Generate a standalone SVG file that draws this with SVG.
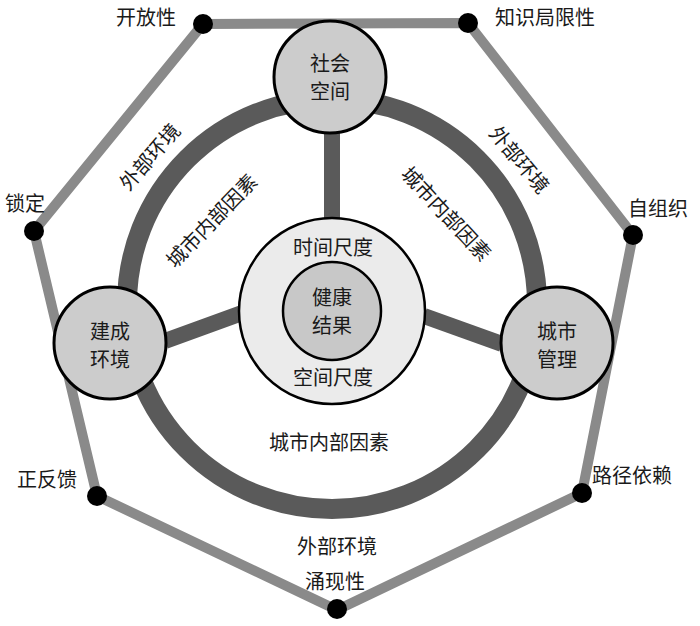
<svg xmlns="http://www.w3.org/2000/svg" width="700" height="626" viewBox="0 0 700 626">
<style>
text{font-family:"Noto Sans CJK SC","Noto Sans",sans-serif;font-size:20px;fill:#1a1a1a}
.m{text-anchor:middle}
.e{text-anchor:end}
.node{fill:#cccccc;stroke:#000;stroke-width:3}
.dot{fill:#000}
.edge{fill:none;stroke:#8a8a8a;stroke-width:10;stroke-linejoin:round}
.ring{fill:none;stroke:#5a5a5a;stroke-width:20}
.spoke{stroke:#5a5a5a;stroke-width:16}
</style>
<rect width="700" height="626" fill="#fff"/>
<g id="connectors">
<polygon class="edge" points="203,24 468,23 633,235 582,493 337,610 97,496 34,231"/>
<circle class="ring" cx="332" cy="304" r="205"/>
<line class="spoke" x1="332" y1="128" x2="332" y2="222"/>
<line class="spoke" x1="165" y1="341" x2="242" y2="313"/>
<line class="spoke" x1="424" y1="316" x2="502" y2="344"/>
</g>
<g id="center">
<circle cx="332" cy="311" r="93" fill="#ebebeb" stroke="#000" stroke-width="2.5"/>
<circle cx="332" cy="311" r="49" fill="#c8c8c8" stroke="#000" stroke-width="2.5"/>
<text class="m" x="333" y="255">时间尺度</text>
<text class="m" x="333" y="385">空间尺度</text>
<text class="m" x="332" y="305">健康<tspan x="332" dy="28">结果</tspan></text>
</g>
<g id="node-social">
<circle class="node" cx="330" cy="77" r="56"/>
<text class="m" x="330" y="71">社会<tspan x="330" dy="27.5">空间</tspan></text>
</g>
<g id="node-built">
<circle class="node" cx="110" cy="343" r="56"/>
<text class="m" x="110" y="339">建成<tspan x="110" dy="27.5">环境</tspan></text>
</g>
<g id="node-manage">
<circle class="node" cx="557" cy="343" r="56"/>
<text class="m" x="557" y="339">城市<tspan x="557" dy="27.5">管理</tspan></text>
</g>
<g id="dots">
<circle class="dot" cx="203" cy="24" r="10"/>
<circle class="dot" cx="468" cy="23" r="10"/>
<circle class="dot" cx="633" cy="235" r="10"/>
<circle class="dot" cx="582" cy="493" r="10"/>
<circle class="dot" cx="337" cy="609" r="10"/>
<circle class="dot" cx="97" cy="496" r="10"/>
<circle class="dot" cx="34" cy="231" r="10"/>
</g>
<g id="labels">
<text class="e" x="176" y="25">开放性</text>
<text x="495" y="25">知识局限性</text>
<text x="5" y="211">锁定</text>
<text x="628" y="216">自组织</text>
<text class="e" x="77" y="487">正反馈</text>
<text x="592" y="483">路径依赖</text>
<text class="m" x="335" y="589">涌现性</text>
<text class="m" x="337" y="554">外部环境</text>
<text class="m" x="329" y="450">城市内部因素</text>
<text class="m" transform="translate(212,221) rotate(-46)" y="7">城市内部因素</text>
<text class="m" transform="translate(446,214) rotate(47)" y="7">城市内部因素</text>
<text class="m" transform="translate(150,157) rotate(-49)" y="7">外部环境</text>
<text class="m" transform="translate(519,160) rotate(50)" y="7">外部环境</text>
</g>
</svg>
